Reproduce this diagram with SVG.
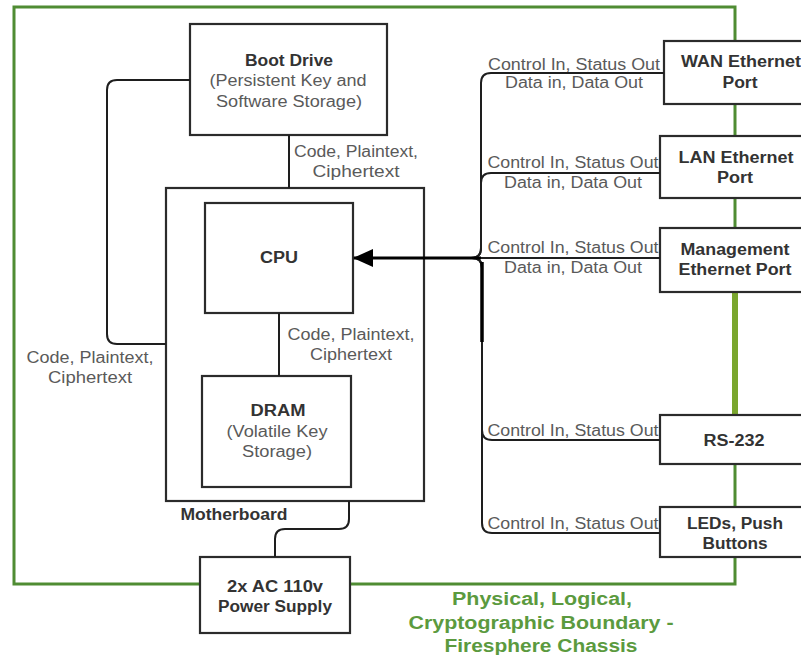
<svg xmlns="http://www.w3.org/2000/svg" width="801" height="655" viewBox="0 0 801 655">
<defs>
<style>
.box{fill:#fff;stroke:#2b2b2b;stroke-width:2.2}
.t{font-family:"Liberation Sans",Arial,sans-serif;font-size:16px;fill:#5a5a5a;text-anchor:middle}
.b{font-family:"Liberation Sans",Arial,sans-serif;font-size:16px;font-weight:bold;fill:#333;text-anchor:middle}
.g{font-family:"Liberation Sans",Arial,sans-serif;font-size:18px;font-weight:bold;fill:#5b9a3e;text-anchor:middle}
.c{fill:none;stroke:#1e1e1e;stroke-width:2}
</style>
<marker id="arr" markerWidth="20" markerHeight="20" refX="19" refY="10" orient="auto" markerUnits="userSpaceOnUse">
<path d="M0,1 L20,10 L0,19 Z" fill="#000"/>
</marker>
</defs>
<rect width="801" height="655" fill="#fff"/>
<g id="boundary">
<rect x="14" y="7" width="721" height="577" fill="none" stroke="#4f8c33" stroke-width="3"/>
<line x1="735" y1="293" x2="735" y2="414" stroke="#7aa62e" stroke-width="6"/>
<text class="g" x="542" y="605" textLength="180" lengthAdjust="spacingAndGlyphs">Physical, Logical,</text>
<text class="g" x="541" y="629" textLength="265" lengthAdjust="spacingAndGlyphs">Cryptographic Boundary -</text>
<text class="g" x="541" y="652" textLength="193" lengthAdjust="spacingAndGlyphs">Firesphere Chassis</text>
</g>
<g id="boot-drive">
<rect class="box" x="190" y="24" width="197" height="111"/>
<text class="b" x="289" y="66" textLength="88" lengthAdjust="spacingAndGlyphs">Boot Drive</text>
<text class="t" x="288" y="86" textLength="157" lengthAdjust="spacingAndGlyphs">(Persistent Key and</text>
<text class="t" x="289" y="107" textLength="146" lengthAdjust="spacingAndGlyphs">Software Storage)</text>
</g>
<g id="motherboard">
<rect class="box" x="166" y="188" width="258" height="313"/>
<text class="b" x="234" y="520" textLength="107" lengthAdjust="spacingAndGlyphs">Motherboard</text>
</g>
<g id="cpu">
<rect class="box" x="205" y="203" width="148" height="110"/>
<text class="b" x="279" y="263" textLength="38" lengthAdjust="spacingAndGlyphs">CPU</text>
</g>
<g id="dram">
<rect class="box" x="202" y="376" width="149" height="111"/>
<text class="b" x="278" y="416" textLength="55" lengthAdjust="spacingAndGlyphs">DRAM</text>
<text class="t" x="277" y="437" textLength="101" lengthAdjust="spacingAndGlyphs">(Volatile Key</text>
<text class="t" x="277" y="457" textLength="70" lengthAdjust="spacingAndGlyphs">Storage)</text>
</g>
<g id="power-supply">
<rect class="box" x="200" y="557" width="150" height="76"/>
<text class="b" x="275" y="592" textLength="96" lengthAdjust="spacingAndGlyphs">2x AC 110v</text>
<text class="b" x="275" y="612" textLength="114" lengthAdjust="spacingAndGlyphs">Power Supply</text>
</g>
<g id="wan-port">
<rect class="box" x="664" y="41" width="152" height="63"/>
<text class="b" x="741" y="67" textLength="120" lengthAdjust="spacingAndGlyphs">WAN Ethernet</text>
<text class="b" x="740" y="88" textLength="35" lengthAdjust="spacingAndGlyphs">Port</text>
</g>
<g id="lan-port">
<rect class="box" x="660" y="136" width="152" height="62"/>
<text class="b" x="736" y="163" textLength="115" lengthAdjust="spacingAndGlyphs">LAN Ethernet</text>
<text class="b" x="735" y="183" textLength="36" lengthAdjust="spacingAndGlyphs">Port</text>
</g>
<g id="mgmt-port">
<rect class="box" x="660" y="228" width="152" height="64"/>
<text class="b" x="735" y="255" textLength="109" lengthAdjust="spacingAndGlyphs">Management</text>
<text class="b" x="735" y="275" textLength="113" lengthAdjust="spacingAndGlyphs">Ethernet Port</text>
</g>
<g id="rs232">
<rect class="box" x="660" y="415" width="152" height="49"/>
<text class="b" x="734" y="446" textLength="61" lengthAdjust="spacingAndGlyphs">RS-232</text>
</g>
<g id="leds">
<rect class="box" x="660" y="507" width="152" height="50"/>
<text class="b" x="735" y="529" textLength="96" lengthAdjust="spacingAndGlyphs">LEDs, Push</text>
<text class="b" x="735" y="549" textLength="65" lengthAdjust="spacingAndGlyphs">Buttons</text>
</g>
<g id="connectors">
<path class="c" d="M190,80 H117 Q107,80 107,90 V334 Q107,344 117,344 H166"/>
<path class="c" d="M289,135 V188"/>
<path class="c" d="M279,313 V376"/>
<path class="c" d="M349,501 V519 Q349,529 339,529 H285 Q275,529 275,539 V557"/>
<path class="c" d="M664,73 H491 Q481,73 481,83 V248 Q481,258 471,258"/>
<path class="c" d="M660,173 H491 Q481,173 481,183 V248 Q481,258 471,258"/>
<path class="c" d="M660,258 H481"/>
<path class="c" d="M660,440 H492 Q482,440 482,430 V268 Q482,258 472,258"/>
<path class="c" d="M660,533 H492 Q482,533 482,523 V268 Q482,258 472,258"/>
<path d="M482,262 V342" fill="none" stroke="#000" stroke-width="3.5"/>
<path d="M481,258 H354" fill="none" stroke="#000" stroke-width="3" marker-end="url(#arr)"/>
<text class="t" x="356" y="157" textLength="124" lengthAdjust="spacingAndGlyphs">Code, Plaintext,</text>
<text class="t" x="356" y="177" textLength="87" lengthAdjust="spacingAndGlyphs">Ciphertext</text>
<text class="t" x="351" y="340" textLength="127" lengthAdjust="spacingAndGlyphs">Code, Plaintext,</text>
<text class="t" x="351" y="360" textLength="82" lengthAdjust="spacingAndGlyphs">Ciphertext</text>
<text class="t" x="90" y="363" textLength="127" lengthAdjust="spacingAndGlyphs">Code, Plaintext,</text>
<text class="t" x="90" y="383" textLength="84" lengthAdjust="spacingAndGlyphs">Ciphertext</text>
<text class="t" x="574" y="70" textLength="172" lengthAdjust="spacingAndGlyphs">Control In, Status Out</text>
<text class="t" x="574" y="88" textLength="138" lengthAdjust="spacingAndGlyphs">Data in, Data Out</text>
<text class="t" x="573" y="168" textLength="171" lengthAdjust="spacingAndGlyphs">Control In, Status Out</text>
<text class="t" x="573" y="188" textLength="138" lengthAdjust="spacingAndGlyphs">Data in, Data Out</text>
<text class="t" x="573" y="253" textLength="171" lengthAdjust="spacingAndGlyphs">Control In, Status Out</text>
<text class="t" x="573" y="273" textLength="138" lengthAdjust="spacingAndGlyphs">Data in, Data Out</text>
<text class="t" x="573" y="436" textLength="171" lengthAdjust="spacingAndGlyphs">Control In, Status Out</text>
<text class="t" x="573" y="529" textLength="171" lengthAdjust="spacingAndGlyphs">Control In, Status Out</text>
</g>
</svg>
